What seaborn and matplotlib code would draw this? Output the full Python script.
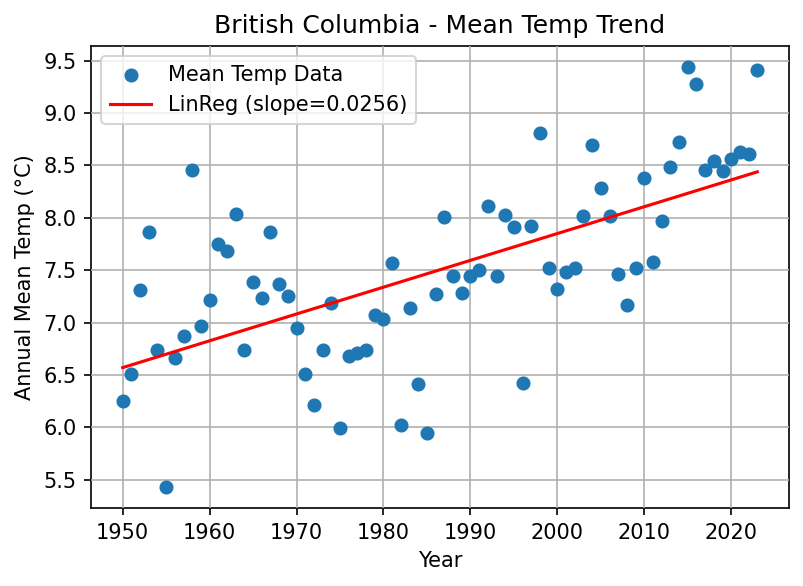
import numpy as np
import pandas as pd
import matplotlib
matplotlib.use("Agg")
import matplotlib.pyplot as plt
import seaborn as sns

years = list(range(1950, 2024))
temps = [6.25, 6.51, 7.31, 7.865, 6.74, 5.43, 6.66, 6.87, 8.46, 6.97,
         7.22, 7.75, 7.68, 8.04, 6.74, 7.39, 7.23, 7.86, 7.37, 7.25,
         6.95, 6.51, 6.21, 6.74, 7.19, 5.99, 6.68, 6.71, 6.74, 7.07,
         7.03, 7.57, 6.02, 7.14, 6.41, 5.95, 7.27, 8.01, 7.44, 7.28,
         7.44, 7.50, 8.11, 7.44, 8.03, 7.91, 6.42, 7.92, 8.81, 7.52,
         7.32, 7.48, 7.52, 8.02, 8.70, 8.285, 8.02, 7.46, 7.17, 7.52,
         8.38, 7.58, 7.97, 8.49, 8.72, 9.44, 9.28, 8.46, 8.54, 8.45,
         8.56, 8.63, 8.61, 9.41]
trend_start = 6.57
slope = 0.0256
title = "British Columbia - Mean Temp Trend"
xlabel = "Year"
ylabel = "Annual Mean Temp (°C)"
scatter_label = "Mean Temp Data"
line_label = f"LinReg (slope={slope:.4f})"

df = pd.DataFrame({"Year": years, "Temp": temps})
df["Trend"] = trend_start + slope * (df["Year"] - years[0])

plt.rcParams["font.family"] = "DejaVu Sans"
W, H = 803, 586
fig = plt.figure(figsize=(W / 150, H / 150), dpi=150)
ax = fig.add_axes([91 / W, 1 - 508 / H, (789 - 91) / W, (508 - 46) / H])
sns.scatterplot(data=df, x="Year", y="Temp", ax=ax, color="#1f77b4", s=36,
                edgecolor="face", linewidth=0.75, label=scatter_label, zorder=3)
sns.lineplot(data=df, x="Year", y="Trend", ax=ax, color="red", linewidth=1.5,
             label=line_label, errorbar=None, zorder=3)
ax.set_title(title)
ax.set_xlabel(xlabel)
ax.set_ylabel(ylabel)
ax.grid(True)
ax.set_axisbelow(False)
ax.legend(loc="upper left")
fig.savefig("out.png", dpi=150)
